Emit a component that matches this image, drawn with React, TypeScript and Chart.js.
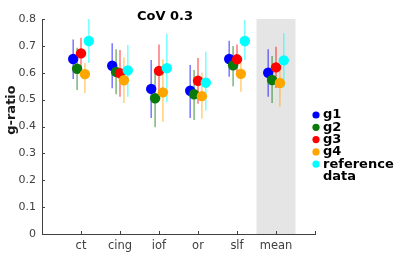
import React, { useEffect, useRef } from "react";
import { Chart, registerables } from "chart.js";
Chart.register(...registerables);

const categories = ["ct", "cing", "iof", "or", "slf", "mean"];
const seriesNames = ["g1", "g2", "g3", "g4", "reference data"];
const colors = ["#0000ff", "#0a7a0a", "#ff0000", "#ffa500", "#00ffff"];
const barColors = ["rgba(0,0,255,0.5)", "rgba(10,122,10,0.5)", "rgba(255,0,0,0.5)", "rgba(255,165,0,0.5)", "rgba(0,255,255,0.5)"];

const g1 = [0.651, 0.626, 0.540, 0.533, 0.651, 0.600];
const g1Lo = [0.577, 0.542, 0.432, 0.432, 0.585, 0.511];
const g1Hi = [0.724, 0.710, 0.647, 0.629, 0.719, 0.687];
const g2 = [0.615, 0.603, 0.505, 0.520, 0.628, 0.573];
const g2Lo = [0.536, 0.520, 0.397, 0.424, 0.550, 0.487];
const g2Hi = [0.693, 0.687, 0.610, 0.610, 0.700, 0.662];
const g3 = [0.672, 0.598, 0.607, 0.570, 0.650, 0.620];
const g3Lo = [0.612, 0.511, 0.509, 0.485, 0.595, 0.543];
const g3Hi = [0.730, 0.685, 0.705, 0.655, 0.705, 0.697];
const g4 = [0.595, 0.572, 0.527, 0.513, 0.596, 0.562];
const g4Lo = [0.525, 0.487, 0.418, 0.430, 0.529, 0.474];
const g4Hi = [0.636, 0.658, 0.650, 0.600, 0.641, 0.629];
const refv = [0.718, 0.609, 0.617, 0.563, 0.718, 0.646];
const refLo = [0.636, 0.511, 0.490, 0.460, 0.647, 0.545];
const refHi = [0.800, 0.703, 0.745, 0.678, 0.796, 0.747];

const yTicks = [0, 0.1, 0.2, 0.3, 0.4, 0.5, 0.6, 0.7, 0.8];
const titleText = "CoV 0.3";
const yLabel = "g-ratio";
const shadedCategory = "mean";

const means = [g1, g2, g3, g4, refv];
const lows = [g1Lo, g2Lo, g3Lo, g4Lo, refLo];
const highs = [g1Hi, g2Hi, g3Hi, g4Hi, refHi];
const offsets = [-0.2, -0.1, 0, 0.1, 0.2];

const FONT = "'DejaVu Sans', sans-serif";
const AXIS_COLOR = "#404040";

export default function App() {
  const ref = useRef<HTMLCanvasElement | null>(null);
  useEffect(() => {
    document.body.style.margin = "0";
    const canvas = ref.current!;
    const datasets = means.map((vals, s) => ({
      label: seriesNames[s],
      data: vals.map((v, i) => ({ x: i + 1 + offsets[s], y: v })),
      backgroundColor: colors[s],
      borderColor: colors[s],
      pointRadius: 5.2,
      borderWidth: 0,
      order: 5 - s,
    }));

    const customPlugin = {
      id: "custom",
      beforeDraw(chart: any) {
        const ctx = chart.ctx;
        const xs = chart.scales.x;
        const ys = chart.scales.y;
        const ci = categories.indexOf(shadedCategory) + 1;
        const l = xs.getPixelForValue(ci - 0.5);
        const r = xs.getPixelForValue(ci + 0.5);
        const t = ys.getPixelForValue(0.8);
        const b = ys.getPixelForValue(0);
        ctx.save();
        ctx.fillStyle = "#e5e5e5";
        ctx.fillRect(l, t, r - l, b - t);
        ctx.restore();
      },
      beforeDatasetsDraw(chart: any) {
        const ctx = chart.ctx;
        const xs = chart.scales.x;
        const ys = chart.scales.y;
        ctx.save();
        ctx.strokeStyle = AXIS_COLOR;
        ctx.lineWidth = 1;
        const x0 = xs.getPixelForValue(0);
        const yb = ys.getPixelForValue(0);
        yTicks.forEach((v) => {
          const py = Math.round(ys.getPixelForValue(v)) + 0.5;
          ctx.beginPath();
          ctx.moveTo(x0, py);
          ctx.lineTo(x0 + 3, py);
          ctx.stroke();
        });
        for (let i = 1; i <= categories.length + 1; i++) {
          const px = Math.round(xs.getPixelForValue(i)) + 0.5;
          ctx.beginPath();
          ctx.moveTo(px, yb);
          ctx.lineTo(px, yb - 3);
          ctx.stroke();
        }
        ctx.lineWidth = 1.6;
        means.forEach((vals, s) => {
          ctx.strokeStyle = barColors[s];
          vals.forEach((v, i) => {
            const px = xs.getPixelForValue(i + 1 + offsets[s]);
            ctx.beginPath();
            ctx.moveTo(px, ys.getPixelForValue(lows[s][i]));
            ctx.lineTo(px, ys.getPixelForValue(highs[s][i]));
            ctx.stroke();
          });
        });
        ctx.restore();
      },
      afterDraw(chart: any) {
        const ctx = chart.ctx;
        const ca = chart.chartArea;
        ctx.save();
        ctx.fillStyle = "#000";
        ctx.font = `bold 13px ${FONT}`;
        ctx.textAlign = "center";
        ctx.textBaseline = "middle";
        ctx.fillText(titleText, 165, 17);
        ctx.save();
        ctx.translate(12, 110);
        ctx.rotate(-Math.PI / 2);
        ctx.fillStyle = "#1a1a1a";
        ctx.fillText(yLabel, 0, 0);
        ctx.restore();
        const lx = ca.right + 1;
        let ly = 115;
        ctx.textAlign = "left";
        seriesNames.forEach((name, s) => {
          ctx.fillStyle = colors[s];
          ctx.beginPath();
          ctx.arc(lx, ly, 3.6, 0, Math.PI * 2);
          ctx.fill();
          ctx.fillStyle = "#000";
          const parts = name.split(" ");
          parts.forEach((p, k) => {
            ctx.fillText(p, lx + 7, ly + k * 12.5);
          });
          ly += 12.3;
        });
        ctx.restore();
      },
    };

    const chart = new Chart(canvas, {
      type: "scatter",
      data: { datasets },
      options: {
        animation: false,
        responsive: false,
        maintainAspectRatio: false,
        layout: { padding: { left: 0, right: 85, top: 19, bottom: 0 } },
        plugins: { legend: { display: false }, title: { display: false }, tooltip: { enabled: false } },
        scales: {
          x: {
            type: "linear",
            min: 0,
            max: categories.length + 1,
            afterFit: (s: any) => { s.height = 28; },
            afterBuildTicks: (s: any) => {
              s.ticks = categories.map((_, i) => ({ value: i + 1 }));
            },
            ticks: {
              autoSkip: false,
              maxRotation: 0,
              padding: 5,
              color: AXIS_COLOR,
              font: { family: FONT, size: 11.5 },
              callback: (v: any) => categories[Number(v) - 1] ?? "",
            },
            grid: { display: false, drawTicks: false },
            border: { display: true, color: AXIS_COLOR, width: 1 },
          },
          y: {
            min: 0,
            max: 0.8,
            afterFit: (s: any) => { s.width = 42; },
            afterBuildTicks: (s: any) => {
              s.ticks = yTicks.map((v) => ({ value: v }));
            },
            ticks: {
              padding: 6,
              color: AXIS_COLOR,
              font: { family: FONT, size: 11 },
              callback: (v: any) => String(Math.round(Number(v) * 10) / 10),
            },
            grid: { display: false, drawTicks: false },
            border: { display: true, color: AXIS_COLOR, width: 1 },
          },
        },
      },
      plugins: [customPlugin],
    } as any);
    return () => chart.destroy();
  }, []);
  return <canvas ref={ref} width={400} height={262} style={{ display: "block" }} />;
}
